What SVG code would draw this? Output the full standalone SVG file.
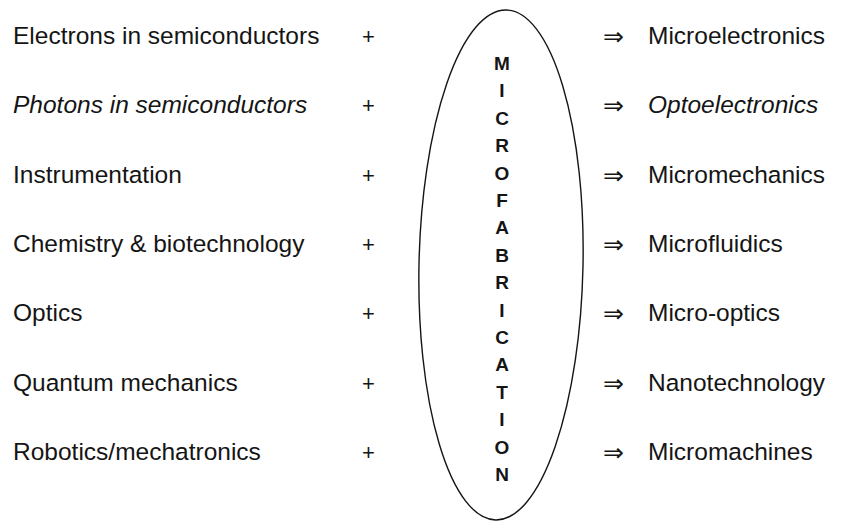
<svg xmlns="http://www.w3.org/2000/svg" width="851" height="525" viewBox="0 0 851 525">
<style>
.lbl{font-family:"Liberation Sans",Arial,sans-serif;font-size:24.5px;fill:#151515}
.it{font-style:italic}
.plus{font-family:"Liberation Sans",Arial,sans-serif;font-size:22px;fill:#151515}
.arr{font-family:"DejaVu Sans",sans-serif;font-size:25px;fill:#151515}
.let{font-family:"Liberation Sans",Arial,sans-serif;font-size:19px;font-weight:bold;fill:#151515;text-anchor:middle}
.ell{fill:none;stroke:#151515;stroke-width:1.4}
</style>
<rect width="851" height="525" fill="#fff"/>
<g id="inputs">
<g id="in1"><text class="lbl" x="13" y="44">Electrons in semiconductors</text></g>
<g id="in2"><text class="lbl it" x="13" y="113">Photons in semiconductors</text></g>
<g id="in3"><text class="lbl" x="13" y="183">Instrumentation</text></g>
<g id="in4"><text class="lbl" x="13" y="252">Chemistry &amp; biotechnology</text></g>
<g id="in5"><text class="lbl" x="13" y="321">Optics</text></g>
<g id="in6"><text class="lbl" x="13" y="391">Quantum mechanics</text></g>
<g id="in7"><text class="lbl" x="13" y="460">Robotics/mechatronics</text></g>
</g>
<g id="microfabrication">
<ellipse class="ell" cx="501" cy="265" rx="82" ry="255" transform="rotate(1.2 501 265)"/>
<text class="let" x="502" y="70">M</text>
<text class="let" x="502" y="97.4">I</text>
<text class="let" x="502" y="124.8">C</text>
<text class="let" x="502" y="152.2">R</text>
<text class="let" x="502" y="179.6">O</text>
<text class="let" x="502" y="207">F</text>
<text class="let" x="502" y="234.4">A</text>
<text class="let" x="502" y="261.8">B</text>
<text class="let" x="502" y="289.2">R</text>
<text class="let" x="502" y="316.6">I</text>
<text class="let" x="502" y="344">C</text>
<text class="let" x="502" y="371.4">A</text>
<text class="let" x="502" y="398.8">T</text>
<text class="let" x="502" y="426.2">I</text>
<text class="let" x="502" y="453.6">O</text>
<text class="let" x="502" y="481">N</text>
</g>
<g id="connectors">
<text class="plus" x="362" y="44">+</text>
<text class="plus" x="362" y="113">+</text>
<text class="plus" x="362" y="183">+</text>
<text class="plus" x="362" y="252">+</text>
<text class="plus" x="362" y="321">+</text>
<text class="plus" x="362" y="391">+</text>
<text class="plus" x="362" y="460">+</text>
<text class="arr" x="603" y="45">⇒</text>
<text class="arr" x="603" y="114">⇒</text>
<text class="arr" x="603" y="184">⇒</text>
<text class="arr" x="603" y="253">⇒</text>
<text class="arr" x="603" y="322">⇒</text>
<text class="arr" x="603" y="392">⇒</text>
<text class="arr" x="603" y="461">⇒</text>
</g>
<g id="outputs">
<g id="out1"><text class="lbl" x="648" y="44">Microelectronics</text></g>
<g id="out2"><text class="lbl it" x="648" y="113">Optoelectronics</text></g>
<g id="out3"><text class="lbl" x="648" y="183">Micromechanics</text></g>
<g id="out4"><text class="lbl" x="648" y="252">Microfluidics</text></g>
<g id="out5"><text class="lbl" x="648" y="321">Micro-optics</text></g>
<g id="out6"><text class="lbl" x="648" y="391">Nanotechnology</text></g>
<g id="out7"><text class="lbl" x="648" y="460">Micromachines</text></g>
</g>
</svg>
